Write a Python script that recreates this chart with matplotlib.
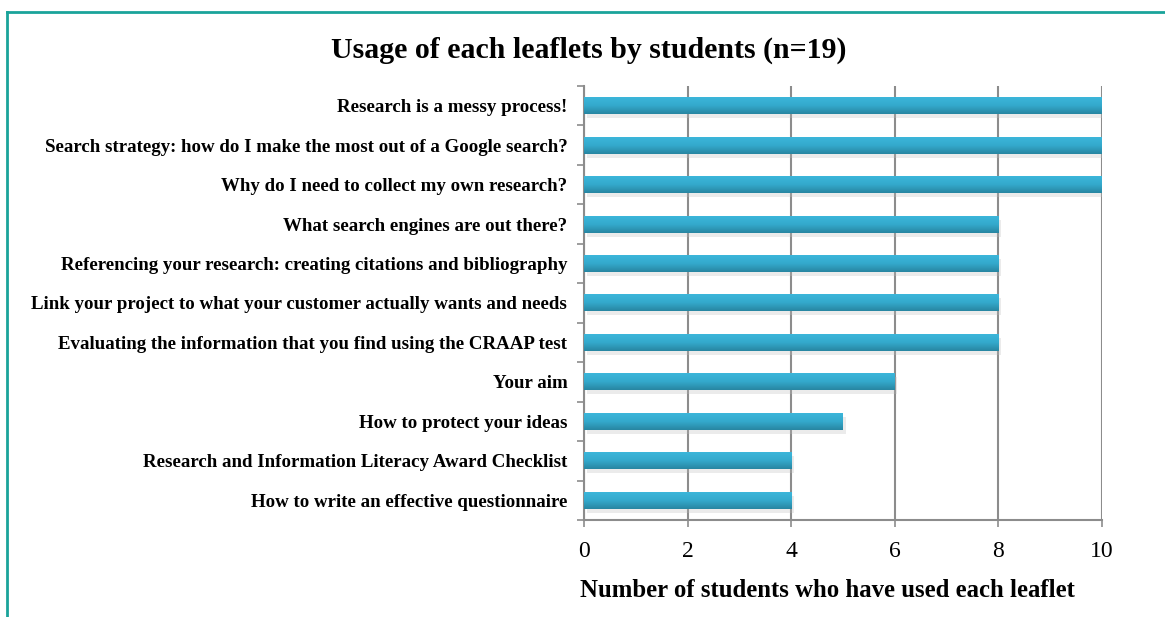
import numpy as np
import matplotlib
matplotlib.use("Agg")
import matplotlib.pyplot as plt
from matplotlib.colors import LinearSegmentedColormap
from matplotlib.lines import Line2D

leaflets = [
    "Research is a messy process!",
    "Search strategy: how do I make the most out of a Google search?",
    "Why do I need to collect my own research?",
    "What search engines are out there?",
    "Referencing your research: creating citations and bibliography",
    "Link your project to what your customer actually wants and needs",
    "Evaluating the information that you find using the CRAAP test",
    "Your aim",
    "How to protect your ideas",
    "Research and Information Literacy Award Checklist",
    "How to write an effective questionnaire",
]
students = [10, 10, 10, 8, 8, 8, 8, 6, 5, 4, 4]
xticks = [0, 2, 4, 6, 8, 10]

title = "Usage of each leaflets by students (n=19)"
xlabel = "Number of students who have used each leaflet"

plt.rcParams['font.family'] = ['Liberation Serif', 'DejaVu Serif']

fig = plt.figure(figsize=(11.65, 6.17), dpi=100)
ax = fig.add_axes([584 / 1165, 1 - 520 / 617, (1102 - 584) / 1165, (520 - 86) / 617])

ypos = np.arange(len(leaflets))
bar_h = 0.43

# soft shadow under each bar
ax.barh(ypos + 0.1, students, height=bar_h, left=0.05, color='#bdbdbd', alpha=0.3,
        linewidth=0, zorder=2)
bars = ax.barh(ypos, students, height=bar_h, color='#34afd3', linewidth=0, zorder=3)

# vertical gradient inside each bar
cmap = LinearSegmentedColormap.from_list('bar', ['#3cb6da', '#34a9cc', '#2886a2'])
grad = np.linspace(0, 1, 64).reshape(-1, 1)
for b in bars:
    x0, y0, w, h = b.get_x(), b.get_y(), b.get_width(), b.get_height()
    ax.imshow(grad, aspect='auto', cmap=cmap, extent=(x0, x0 + w, y0, y0 + h),
              origin='lower', zorder=4)

ax.set_ylim(len(leaflets) - 0.5, -0.5)
ax.set_xlim(0, 10)
ax.set_xticks(xticks)
ax.set_xticklabels([str(t) for t in xticks], fontsize=17)
ax.set_yticks(ypos)
ax.set_yticklabels(leaflets, fontsize=13.6, fontweight='bold')
ax.set_yticks(np.arange(len(leaflets) + 1) - 0.5, minor=True)

ax.tick_params(axis='y', which='major', length=0, pad=12)
ax.tick_params(axis='y', which='minor', length=5, width=1.2, color='#8c8c8c', direction='out')
ax.tick_params(axis='x', length=5, width=1.2, color='#8c8c8c', direction='out', pad=10)

ax.grid(axis='x', color='#8c8c8c', linewidth=1.5, zorder=1)
ax.set_axisbelow(True)
for s in ['top', 'right']:
    ax.spines[s].set_visible(False)
for s in ['left', 'bottom']:
    ax.spines[s].set_color('#8c8c8c')
    ax.spines[s].set_linewidth(1.5)

ax.set_xlabel(xlabel, fontsize=17.8, fontweight='bold')
ax.xaxis.set_label_coords(0.47, -0.135)

fig.text(0.505, 1 - 50 / 617, title, ha='center', va='center', fontsize=21.5, fontweight='bold')

# teal frame (top and left edges)
fig.add_artist(Line2D([7 / 1165, 7 / 1165], [0, 1 - 12 / 617], transform=fig.transFigure,
                      color='#1aa39a', linewidth=2))
fig.add_artist(Line2D([7 / 1165, 1], [1 - 12 / 617, 1 - 12 / 617], transform=fig.transFigure,
                      color='#1aa39a', linewidth=2))

fig.savefig('out.png', dpi=100, facecolor='white')
